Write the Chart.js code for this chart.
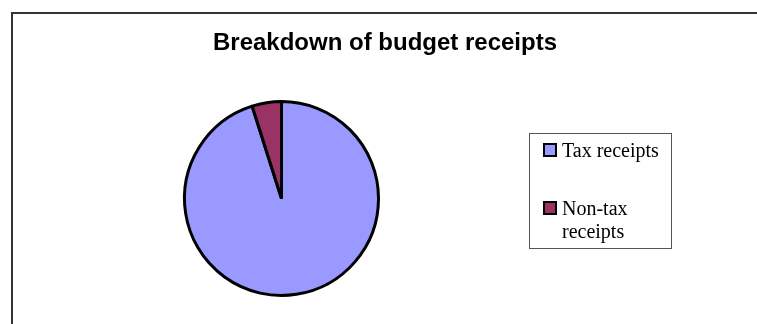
<!DOCTYPE html>
<html lang="en">
  <head>
    <meta charset="UTF-8" />
    <title>Budget receipts</title>
    <script src="https://cdn.jsdelivr.net/npm/chart.js"></script>
    <style>
      html,
      body {
        margin: 0;
        padding: 0;
        background: #ffffff;
      }
      #wrap {
        width: 757px;
        height: 324px;
      }
    </style>
  </head>
  <body>
    <div id="wrap">
      <canvas id="myChart" width="757" height="324"></canvas>
    </div>
  </body>
  <script>
    const chartTitle = "Breakdown of budget receipts";
    const labelList = ["Tax receipts", "Non-tax receipts"];
    const legendLines = [["Tax receipts"], ["Non-tax", "receipts"]];
    const dataList = [95.1, 4.9];
    const colorList = ["#9999ff", "#993366"];

    // frame, title and legend box drawn around the pie
    const decorPlugin = {
      id: "decor",
      beforeDraw(chart) {
        const c = chart.ctx;
        c.save();
        c.fillStyle = "#ffffff";
        c.fillRect(0, 0, chart.width, chart.height);
        c.fillStyle = "#333333";
        c.fillRect(11, 12, chart.width, 2);
        c.fillRect(11, 12, 2, chart.height);
        c.restore();
      },
      afterDraw(chart) {
        const c = chart.ctx;
        c.save();
        c.fillStyle = "#000000";
        c.font = "bold 24px 'Liberation Sans', Arial, sans-serif";
        c.textAlign = "center";
        c.textBaseline = "alphabetic";
        c.fillText(chartTitle, 385, 50);

        // legend
        c.strokeStyle = "#555555";
        c.lineWidth = 1;
        c.strokeRect(529.5, 133.5, 142, 115);
        const rows = [143, 201];
        c.font = "20px 'Liberation Serif', 'Times New Roman', serif";
        c.textAlign = "left";
        legendLines.forEach((lines, i) => {
          const y = rows[i];
          c.fillStyle = "#000000";
          c.fillRect(543, y, 14, 14);
          c.fillStyle = colorList[i];
          c.fillRect(545, y + 2, 10, 10);
          c.fillStyle = "#000000";
          lines.forEach((t, j) => {
            c.fillText(t, 562, y + 14 + j * 23);
          });
        });
        c.restore();
      },
    };

    const ctx = document.getElementById("myChart");
    const myChart = new Chart(ctx, {
      type: "pie",
      data: {
        labels: labelList,
        datasets: [
          {
            data: dataList,
            backgroundColor: colorList,
            borderColor: "#000000",
            borderWidth: 3,
          },
        ],
      },
      options: {
        responsive: false,
        animation: false,
        layout: {
          padding: { left: 183, right: 377, top: 100, bottom: 27 },
        },
        plugins: {
          legend: { display: false },
          title: { display: false },
          tooltip: { enabled: false },
        },
      },
      plugins: [decorPlugin],
    });
  </script>
</html>
